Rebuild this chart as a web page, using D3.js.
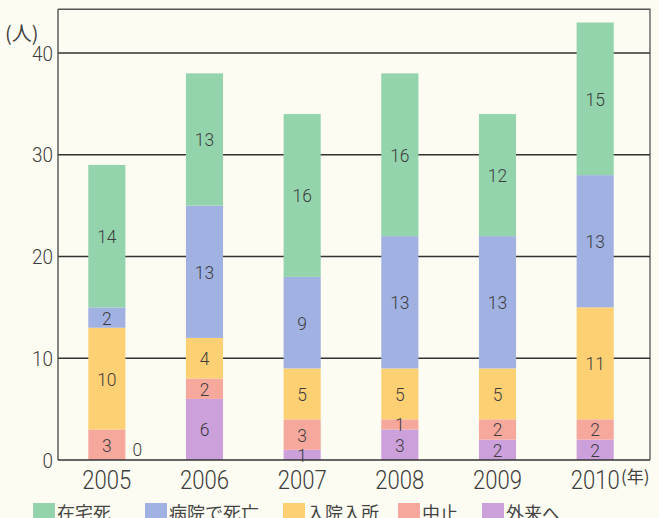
<!DOCTYPE html>
<html lang="ja">
<head>
<meta charset="UTF-8">
<title>stacked bars</title>
<script src="https://cdn.jsdelivr.net/npm/d3@7"></script>
<style>
    body{ margin:0; background:#fdfcf2; }
    svg{ display:block; }
    text{ font-family:Roboto,"DejaVu Sans",sans-serif; font-weight:300; fill:#3d3d3d; }
    .jp{ font-family:"Noto Sans CJK JP",sans-serif; font-weight:400; fill:#444; }
</style>
</head>
<body>
<div id="chart"></div>
<script>
    var WIDTH = 659, HEIGHT = 518;

    var years = ["2005", "2006", "2007", "2008", "2009", "2010"];
    var seriesNames = ["外来へ", "中止", "入院入所", "病院で死亡", "在宅死"];
    var gairai   = [0, 6, 1, 3, 2, 2];
    var chushi   = [3, 2, 3, 1, 2, 2];
    var nyuin    = [10, 4, 5, 5, 5, 11];
    var byoin    = [2, 13, 9, 13, 13, 13];
    var zaitaku  = [14, 13, 16, 16, 12, 15];
    var yTicks = [0, 10, 20, 30, 40];
    var legendOrder = ["在宅死", "病院で死亡", "入院入所", "中止", "外来へ"];

    var COLORS = {
        "外来へ": "#cba0db",
        "中止": "#f6a89c",
        "入院入所": "#fdd074",
        "病院で死亡": "#a0b1e2",
        "在宅死": "#93d4ad"
    };

    var rows = years.map(function(y, i){
        return {year: y, "外来へ": gairai[i], "中止": chushi[i], "入院入所": nyuin[i],
                "病院で死亡": byoin[i], "在宅死": zaitaku[i]};
    });

    var svg = d3.select("#chart").append("svg")
        .attr("width", WIDTH).attr("height", HEIGHT);

    var x = d3.scaleBand().domain(years).range([58, 644])
        .paddingInner(0.62).paddingOuter(0.31);
    var y = d3.scaleLinear().domain([0, 40]).range([460, 53]);

    // narrow-looking numbers: squeeze horizontally
    function numText(g, px, py, size, sx, anchor){
        return g.append("text")
            .attr("transform", "translate(" + px + "," + py + ") scale(" + sx + ",1)")
            .attr("font-size", size)
            .attr("text-anchor", anchor || "middle");
    }

    // frame (top + right)
    svg.append("path")
        .attr("d", "M58," + y(44.3) + "H650V" + y(0))
        .attr("fill", "none").attr("stroke", "#555").attr("stroke-width", 1.3);

    // grid
    svg.append("g").selectAll("line").data(yTicks.slice(1)).enter().append("line")
        .attr("x1", 58).attr("x2", 650)
        .attr("y1", function(d){ return y(d); }).attr("y2", function(d){ return y(d); })
        .attr("stroke", "#333").attr("stroke-width", 1.3);

    var stack = d3.stack().keys(seriesNames)(rows);

    var layers = svg.append("g").selectAll("g").data(stack).enter().append("g")
        .attr("fill", function(d){ return COLORS[d.key]; });

    layers.selectAll("rect").data(function(d){ return d; }).enter().append("rect")
        .attr("x", function(d){ return x(d.data.year); })
        .attr("width", x.bandwidth())
        .attr("y", function(d){ return y(d[1]); })
        .attr("height", function(d){ return y(d[0]) - y(d[1]); });

    // axes
    svg.append("line").attr("x1", 58).attr("x2", 58).attr("y1", y(44.3)).attr("y2", y(0))
        .attr("stroke", "#444").attr("stroke-width", 1.3);
    svg.append("line").attr("x1", 58).attr("x2", 650).attr("y1", y(0)).attr("y2", y(0))
        .attr("stroke", "#333").attr("stroke-width", 1.5);

    // segment labels
    var segLabels = svg.append("g");
    stack.forEach(function(layer){
        layer.forEach(function(d){
            var v = d[1] - d[0];
            var cx = x(d.data.year) + x.bandwidth() / 2;
            if (v === 0){
                numText(segLabels, x(d.data.year) + x.bandwidth() + 12, y(0) - 4, 19, 0.92).text(v);
            } else {
                numText(segLabels, cx, y((d[0] + d[1]) / 2) + 7, 19, 0.92).text(v);
            }
        });
    });

    // y tick labels
    yTicks.forEach(function(d){
        numText(svg, 53, y(d) + 7.5, 21, 0.9, "end").text(d);
    });

    svg.append("text").attr("class", "jp").attr("x", 5).attr("y", 41)
        .attr("font-size", 20).text("(人)");

    // x tick labels
    years.forEach(function(d){
        numText(svg, x(d) + x.bandwidth() / 2, 489, 26, 0.85).text(d);
    });

    svg.append("text").attr("class", "jp").attr("x", 621).attr("y", 483)
        .attr("font-size", 17).text("(年)");

    // legend
    var legendX = [33, 145, 283, 398, 482];
    var legend = svg.append("g").selectAll("g").data(legendOrder).enter().append("g")
        .attr("transform", function(d, i){ return "translate(" + legendX[i] + ",503)"; });
    legend.append("rect").attr("width", 22).attr("height", 16)
        .attr("fill", function(d){ return COLORS[d]; });
    legend.append("text").attr("class", "jp").attr("x", 24).attr("y", 17)
        .attr("font-size", 18).text(function(d){ return d; });
</script>
</body>
</html>
